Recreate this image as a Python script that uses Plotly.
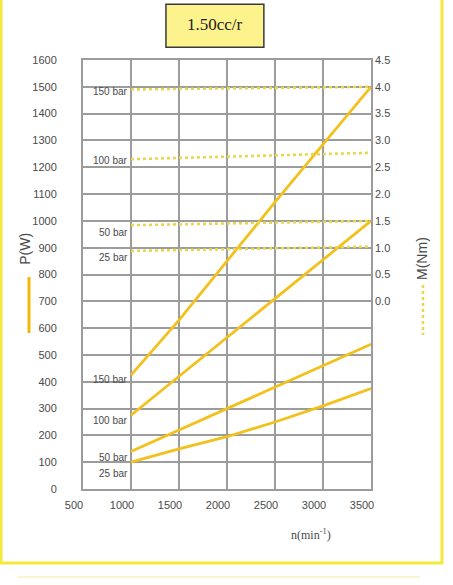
import plotly.graph_objects as go

# ---- data ----
speed = [1000, 1500, 2000, 2500, 3000, 3500]
power_150 = [425, 630, 850, 1070, 1285, 1500]
power_100 = [275, 420, 565, 710, 855, 1000]
power_50 = [140, 220, 300, 380, 460, 540]
power_25 = [100, 150, 195, 250, 310, 375]

torque_speed = [1000, 3500]
torque_150 = [3.95, 4.0]
torque_100 = [2.65, 2.77]
torque_50 = [1.42, 1.5]
torque_25 = [0.94, 1.02]

pressure_labels = ["150 bar", "100 bar", "50 bar", "25 bar"]
upper_label_p = [1481, 1227, 958, 865]
lower_label_p = [410, 257, 119, 56]

x_ticks = [500, 1000, 1500, 2000, 2500, 3000, 3500]
p_ticks = list(range(0, 1700, 100))
m_ticks = [0.0, 0.5, 1.0, 1.5, 2.0, 2.5, 3.0, 3.5, 4.0, 4.5]

SOLID = "#F2C11C"
DOT = "#E9D64C"
GRID = "#9C9C9C"
TXT = "#4a4a4a"

fig = go.Figure()
for p in [power_150, power_100, power_50, power_25]:
    fig.add_trace(go.Scatter(x=speed, y=p, mode="lines",
                             line=dict(color=SOLID, width=2.8),
                             showlegend=False, hoverinfo="skip"))
for m in [torque_150, torque_100, torque_50, torque_25]:
    fig.add_trace(go.Scatter(x=torque_speed, y=m, mode="lines", yaxis="y2",
                             line=dict(color=DOT, width=2.6, dash="dot"),
                             showlegend=False, hoverinfo="skip"))

ann = []
for lab, yv in zip(pressure_labels, upper_label_p):
    ann.append(dict(x=1000, y=yv, xref="x", yref="y", text=lab, showarrow=False,
                    xanchor="right", yanchor="middle", xshift=-1,
                    font=dict(family="Liberation Sans, Arial", size=10, color=TXT)))
for lab, yv in zip(pressure_labels, lower_label_p):
    ann.append(dict(x=1000, y=yv, xref="x", yref="y", text=lab, showarrow=False,
                    xanchor="right", yanchor="middle", xshift=-1,
                    font=dict(family="Liberation Sans, Arial", size=10, color=TXT)))

ann += [
    dict(x=0.4583, y=1.0839, xref="paper", yref="paper", text="1.50cc/r", showarrow=False,
         xanchor="center", yanchor="middle",
         font=dict(family="Liberation Serif, Times New Roman", size=17, color="#222")),
    dict(x=-0.2014, y=0.56, xref="paper", yref="paper", text="P(W)", showarrow=False,
         xanchor="center", yanchor="middle",
         textangle=-90, font=dict(family="Liberation Sans, Arial", size=14, color=TXT)),
    dict(x=1.177, y=0.5385, xref="paper", yref="paper", text="M(Nm)", showarrow=False,
         xanchor="center", yanchor="middle",
         textangle=-90, font=dict(family="Liberation Sans, Arial", size=14, color=TXT)),
    dict(x=0.7917, y=-0.1049, xref="paper", yref="paper", text="n(min<sup>-1</sup>)",
         xanchor="center", yanchor="middle",
         showarrow=False, font=dict(family="Liberation Serif, Times New Roman", size=12, color=TXT)),
]

shapes = [
    dict(type="rect", xref="paper", yref="paper", x0=0.288, x1=0.628, y0=1.030, y1=1.130,
         fillcolor="#FDF38C", line=dict(color="#3a3a3a", width=1.5), layer="above"),
    dict(type="rect", xref="paper", yref="paper", x0=-0.2847, x1=1.2465, y0=-0.1725, y1=1.16,
         line=dict(color="#F4E83A", width=3), layer="below"),
    dict(type="line", xref="paper", yref="paper", x0=-0.229, x1=1.17, y0=-0.2051, y1=-0.2051,
         line=dict(color="#FBF5CF", width=2)),
    dict(type="line", xref="paper", yref="paper", x0=-0.1875, x1=-0.1875, y0=0.494, y1=0.3636,
         line=dict(color="#F3B70A", width=3)),
    dict(type="line", xref="paper", yref="paper", x0=1.1806, x1=1.1806, y0=0.4755, y1=0.359,
         line=dict(color=DOT, width=2.5, dash="dot")),
]

fig.update_layout(
    width=453, height=585,
    margin=dict(l=83, r=82, t=60, b=96, autoexpand=False),
    paper_bgcolor="white", plot_bgcolor="white",
    showlegend=False,
    font=dict(family="Liberation Sans, Arial", size=11, color=TXT),
    xaxis=dict(range=[500, 3500], tickvals=x_ticks, showgrid=True, gridcolor=GRID, gridwidth=2,
               showline=True, linecolor=GRID, linewidth=2, mirror=True, zeroline=False,
               ticks="", ticklabelshift=-9, ticklabelstandoff=5,
               tickfont=dict(size=11, color=TXT)),
    yaxis=dict(range=[0, 1600], tickvals=p_ticks, showgrid=True, gridcolor=GRID, gridwidth=2,
               showline=True, linecolor=GRID, linewidth=2, mirror=True, zeroline=False,
               ticks="", ticklabelstandoff=22, tickfont=dict(size=11, color=TXT)),
    yaxis2=dict(range=[-3.5, 4.5], overlaying="y", side="right", tickvals=m_ticks,
                tickformat=".1f", showgrid=False, zeroline=False, showline=False,
                ticks="", ticklabelstandoff=3, tickfont=dict(size=11, color=TXT)),
    annotations=ann,
    shapes=shapes,
)

fig.write_html("out.html", config={"displayModeBar": False},
               post_script="document.body.style.margin='0';")
